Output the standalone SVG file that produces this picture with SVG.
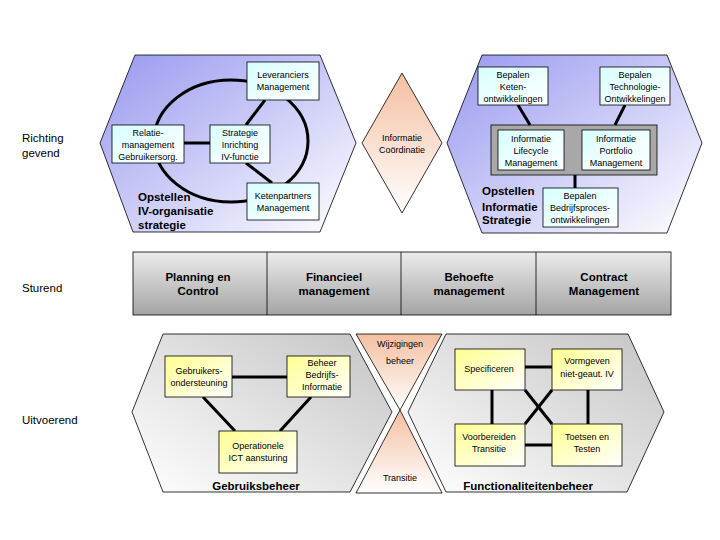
<svg xmlns="http://www.w3.org/2000/svg" width="720" height="540" viewBox="0 0 720 540">
<defs>
<linearGradient id="gb" x1="0" y1="0" x2="1" y2="1"><stop offset="0" stop-color="#9898f0"/><stop offset="1" stop-color="#ffffff"/></linearGradient>
<linearGradient id="gp" x1="0" y1="0" x2="0" y2="1"><stop offset="0" stop-color="#f4bfa0"/><stop offset="1" stop-color="#ffffff"/></linearGradient>
<linearGradient id="gp2" x1="0" y1="1" x2="0" y2="0"><stop offset="0" stop-color="#ffffff"/><stop offset="1" stop-color="#f4bfa0"/></linearGradient>
<linearGradient id="gg" x1="1" y1="0" x2="0" y2="1"><stop offset="0" stop-color="#c4c4c4"/><stop offset="1" stop-color="#ffffff"/></linearGradient>
<linearGradient id="gs" x1="0" y1="0" x2="0" y2="1"><stop offset="0" stop-color="#ececec"/><stop offset="1" stop-color="#a4a4a4"/></linearGradient>
<linearGradient id="gc" x1="0" y1="0" x2="1" y2="1"><stop offset="0" stop-color="#d8ffff"/><stop offset="1" stop-color="#ffffff"/></linearGradient>
<linearGradient id="gy" x1="0" y1="0" x2="1" y2="1"><stop offset="0" stop-color="#ffff90"/><stop offset="1" stop-color="#ffffff"/></linearGradient>
</defs>
<style>
.hb{fill:url(#gb);stroke:#000;stroke-width:0.8}
.hg{fill:url(#gg);stroke:#000;stroke-width:0.8}
.bc{fill:url(#gc);stroke:#000;stroke-width:0.8}
.by{fill:url(#gy);stroke:#000;stroke-width:0.8}
.t{font-family:"Liberation Sans",Arial,sans-serif;font-size:9px;text-anchor:middle;fill:#000}
.b{font-family:"Liberation Sans",Arial,sans-serif;font-size:11.5px;font-weight:bold;fill:#000}
.l{font-family:"Liberation Sans",Arial,sans-serif;font-size:11.5px;fill:#000}
.c line,.c ellipse{stroke:#000;stroke-width:3;fill:none}
</style>
<g id="labels">
<text class="l" x="22" y="142">Richting</text><text class="l" x="22" y="157">gevend</text>
<text class="l" x="22" y="292">Sturend</text>
<text class="l" x="22" y="424">Uitvoerend</text>
</g>
<g id="hex-iv">
<polygon class="hb" points="100,143 135,55 320,55 356,143 320,232 133,232"/>
<text class="b" x="138" y="201">Opstellen</text><text class="b" x="138" y="215">IV-organisatie</text><text class="b" x="138" y="229">strategie</text>
</g>
<g id="hex-is">
<polygon class="hb" points="447,143 482,55 667,55 702,143 667,233 482,233"/>
<rect x="491" y="125" width="166" height="50" fill="#a8a8a8" stroke="#000" stroke-width="0.8"/>
<text class="b" x="482" y="195">Opstellen</text><text class="b" x="482" y="211">Informatie</text><text class="b" x="482" y="224">Strategie</text>
</g>
<g id="coord"><polygon points="402,73 442,143 402,213 362,143" fill="url(#gp)" stroke="#000" stroke-width="0.8"/>
<text class="t" x="402" y="141">Informatie</text><text class="t" x="402" y="153">Coördinatie</text></g>
<g id="hex-gb"><polygon class="hg" points="132,412 163,334 350,334 392,412 350,492 163,492"/>
<text class="b" x="256" y="490" text-anchor="middle">Gebruiksbeheer</text></g>
<g id="hex-fb"><polygon class="hg" points="408,412 446,334 628,334 664,412 627,492 446,492"/>
<text class="b" x="528" y="490" text-anchor="middle">Functionaliteitenbeheer</text></g>
<g id="wijz"><polygon points="356,334 442,334 400,410" fill="url(#gp)" stroke="#000" stroke-width="0.8"/>
<text class="t" x="400" y="347">Wijzigingen</text><text class="t" x="400" y="364">beheer</text></g>
<g id="trans"><polygon points="400,410 442,493 356,493" fill="url(#gp2)" stroke="#000" stroke-width="0.8"/>
<text class="t" x="400" y="481">Transitie</text></g>
<g id="sturend">
<rect x="133" y="252" width="538" height="63" fill="url(#gs)" stroke="#000" stroke-width="0.8"/>
<line x1="267" y1="252" x2="267" y2="315" stroke="#000" stroke-width="0.8"/>
<line x1="401" y1="252" x2="401" y2="315" stroke="#000" stroke-width="0.8"/>
<line x1="536" y1="252" x2="536" y2="315" stroke="#000" stroke-width="0.8"/>
<text class="b" x="198" y="281" text-anchor="middle">Planning en</text><text class="b" x="198" y="295" text-anchor="middle">Control</text>
<text class="b" x="334" y="281" text-anchor="middle">Financieel</text><text class="b" x="334" y="295" text-anchor="middle">management</text>
<text class="b" x="469" y="281" text-anchor="middle">Behoefte</text><text class="b" x="469" y="295" text-anchor="middle">management</text>
<text class="b" x="604" y="281" text-anchor="middle">Contract</text><text class="b" x="604" y="295" text-anchor="middle">Management</text>
</g>
<g class="c" id="connectors">
<ellipse cx="231" cy="141" rx="77" ry="61"/>
<line x1="184" y1="143" x2="210" y2="143"/>
<line x1="246" y1="125" x2="265" y2="100"/>
<line x1="246" y1="163" x2="272" y2="183"/>
<line x1="518" y1="105" x2="530" y2="125"/>
<line x1="625" y1="105" x2="615" y2="125"/>
<line x1="575" y1="175" x2="575" y2="188" stroke-width="2"/>
<line x1="232" y1="377" x2="287" y2="377"/>
<line x1="203" y1="397" x2="235" y2="431"/>
<line x1="311" y1="397" x2="280" y2="431"/>
<line x1="525" y1="367" x2="552" y2="367"/>
<line x1="525" y1="445" x2="552" y2="445"/>
<line x1="492" y1="390" x2="492" y2="424"/>
<line x1="588" y1="390" x2="588" y2="424"/>
<line x1="525" y1="390" x2="552" y2="424"/>
<line x1="552" y1="390" x2="525" y2="424"/>
</g>
<g id="n-lev"><rect class="bc" x="247" y="62" width="72" height="38"/><text class="t" x="283" y="78">Leveranciers</text><text class="t" x="283" y="90">Management</text></g>
<g id="n-rel"><rect class="bc" x="112" y="125" width="72" height="38"/><text class="t" x="148" y="136">Relatie-</text><text class="t" x="148" y="148">management</text><text class="t" x="148" y="160">Gebruikersorg.</text></g>
<g id="n-str"><rect class="bc" x="210" y="125" width="60" height="38"/><text class="t" x="240" y="136">Strategie</text><text class="t" x="240" y="148">Inrichting</text><text class="t" x="240" y="160">IV-functie</text></g>
<g id="n-ket"><rect class="bc" x="247" y="183" width="72" height="37"/><text class="t" x="283" y="199">Ketenpartners</text><text class="t" x="283" y="211">Management</text></g>
<g id="n-bk"><rect class="bc" x="478" y="67" width="70" height="38"/><text class="t" x="513" y="78">Bepalen</text><text class="t" x="513" y="90">Keten-</text><text class="t" x="513" y="102">ontwikkelingen</text></g>
<g id="n-bt"><rect class="bc" x="600" y="67" width="70" height="38"/><text class="t" x="635" y="78">Bepalen</text><text class="t" x="635" y="90">Technologie-</text><text class="t" x="635" y="102">Ontwikkelingen</text></g>
<g id="n-il"><rect class="bc" x="498" y="130" width="66" height="40"/><text class="t" x="531" y="142">Informatie</text><text class="t" x="531" y="154">Lifecycle</text><text class="t" x="531" y="166">Management</text></g>
<g id="n-ip"><rect class="bc" x="582" y="130" width="68" height="40"/><text class="t" x="616" y="142">Informatie</text><text class="t" x="616" y="154">Portfolio</text><text class="t" x="616" y="166">Management</text></g>
<g id="n-bb"><rect class="bc" x="543" y="188" width="75" height="39"/><text class="t" x="580" y="199">Bepalen</text><text class="t" x="580" y="211">Bedrijfsproces-</text><text class="t" x="580" y="223">ontwikkelingen</text></g>
<g id="n-go"><rect class="by" x="165" y="356" width="67" height="41"/><text class="t" x="199" y="374">Gebruikers-</text><text class="t" x="199" y="386">ondersteuning</text></g>
<g id="n-bbi"><rect class="by" x="287" y="356" width="63" height="41"/><text class="t" x="322" y="366">Beheer</text><text class="t" x="322" y="378">Bedrijfs-</text><text class="t" x="322" y="390">Informatie</text></g>
<g id="n-op"><rect class="by" x="219" y="431" width="78" height="42"/><text class="t" x="258" y="449">Operationele</text><text class="t" x="258" y="461">ICT aansturing</text></g>
<g id="n-sp"><rect class="by" x="455" y="349" width="70" height="41"/><text class="t" x="489" y="372">Specificeren</text></g>
<g id="n-vg"><rect class="by" x="552" y="349" width="70" height="41"/><text class="t" x="587" y="364">Vormgeven</text><text class="t" x="587" y="377">niet-geaut. IV</text></g>
<g id="n-vb"><rect class="by" x="455" y="424" width="70" height="42"/><text class="t" x="489" y="440">Voorbereiden</text><text class="t" x="489" y="452">Transitie</text></g>
<g id="n-tt"><rect class="by" x="552" y="424" width="70" height="42"/><text class="t" x="587" y="440">Toetsen en</text><text class="t" x="587" y="452">Testen</text></g>
</svg>
